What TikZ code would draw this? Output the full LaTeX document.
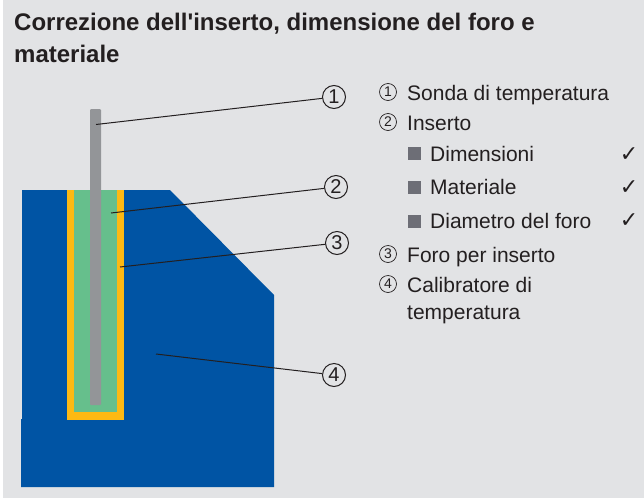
\documentclass[tikz,border=0pt]{standalone}
\usepackage{fontspec}
\setmainfont{Liberation Sans}
\newfontfamily\symfont{DejaVu Sans}
\definecolor{panelgray}{HTML}{E2E3E5}
\definecolor{blockblue}{HTML}{0054A4}
\definecolor{sleevegreen}{HTML}{66BF8C}
\definecolor{borehole}{HTML}{FDB913}
\definecolor{probegray}{HTML}{939598}
\definecolor{bulletgray}{HTML}{6D6E76}
\definecolor{inkblack}{HTML}{231F20}
\tikzset{
    callout/.style={circle, draw=inkblack, line width=1pt, inner sep=0pt, minimum size=23pt, text=inkblack, font=\fontsize{20}{20}\selectfont},
    legendnum/.style={circle, draw=inkblack, line width=0.7pt, inner sep=0pt, minimum size=17pt, text=inkblack, font=\fontsize{14}{14}\selectfont},
    legendtext/.style={anchor=base west, inner sep=0pt, text=inkblack, font=\fontsize{21}{21}\selectfont},
    titletext/.style={anchor=base west, inner sep=0pt, text=inkblack, font=\bfseries\fontsize{24}{24}\selectfont},
    bullet/.style={fill=bulletgray, inner sep=0pt, minimum size=13pt},
    tick/.style={anchor=base, inner sep=0pt, text=inkblack, font=\symfont\fontsize{22}{22}\selectfont},
    leader/.style={draw=inkblack, line width=1pt},
}
\begin{document}
\begin{tikzpicture}[x=1pt, y=-1pt]
    \useasboundingbox (0,0) rectangle (644,498);
    \fill[panelgray] (3,0) rectangle (644,498);
    % block
    \fill[blockblue] (22,190) -- (170,190) -- (274,295) -- (274,487) -- (21,487) -- (21,419) -- (22,419) -- cycle;
    \fill[borehole] (67,190) rectangle (124,420);
    \fill[sleevegreen] (74,190) rectangle (117,412);
    \fill[probegray, rounded corners=1pt] (90,109) rectangle (101,405);
    % callouts
    \coordinate (p1) at (96,124.5);
    \coordinate (p2) at (111,213);
    \coordinate (p3) at (120,267);
    \coordinate (p4) at (156,354);
    \node[callout] (c1) at (334,97) {1};
    \node[callout] (c2) at (336,187) {2};
    \node[callout] (c3) at (337,243) {3};
    \node[callout] (c4) at (334,375) {4};
    \draw[leader] (p1) -- (c1);
    \draw[leader] (p2) -- (c2);
    \draw[leader] (p3) -- (c3);
    \draw[leader] (p4) -- (c4);
    % title
    \node[titletext] (title1) at (14,30) {Correzione dell\textquotesingle inserto, dimensione del foro e};
    \node[titletext] (title2) at (14,62) {materiale};
    % legend
    \node[legendnum] (n1) at (388,92) {1};
    \node[legendnum] (n2) at (388,122) {2};
    \node[legendnum] (n3) at (388,254) {3};
    \node[legendnum] (n4) at (388,284) {4};
    \node[legendtext] (t1) at (407,100.5) {Sonda di temperatura};
    \node[legendtext] (t2) at (407,130.5) {Inserto};
    \node[legendtext] (t3) at (430,161) {Dimensioni};
    \node[legendtext] (t4) at (430,194.5) {Materiale};
    \node[legendtext] (t5) at (430,228) {Diametro del foro};
    \node[legendtext] (t6) at (407,262) {Foro per inserto};
    \node[legendtext] (t7) at (407,292) {Calibratore di};
    \node[legendtext] (t8) at (407,319) {temperatura};
    \node[bullet] (b1) at (414.5,153) {};
    \node[bullet] (b2) at (414.5,187) {};
    \node[bullet] (b3) at (414.5,221) {};
    \node[tick] (k1) at (629,161) {✓};
    \node[tick] (k2) at (629,194) {✓};
    \node[tick] (k3) at (629,227) {✓};
\end{tikzpicture}
\end{document}
